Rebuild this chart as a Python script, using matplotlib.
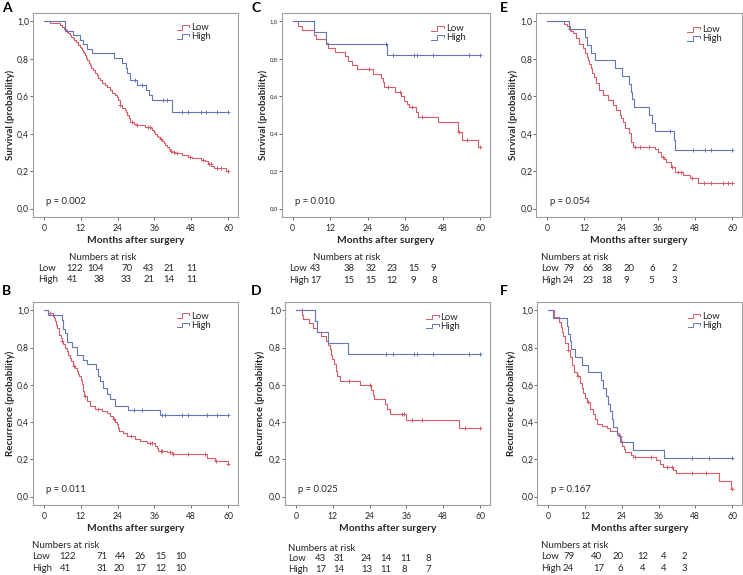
import matplotlib
matplotlib.use("Agg")
import matplotlib.pyplot as plt
import numpy as np
from matplotlib.legend_handler import HandlerBase
from matplotlib.lines import Line2D

plt.rcParams["font.family"] = ["Lato", "DejaVu Sans"]

W, H = 743, 575
RED = "#d85c67"
BLUE = "#6276b9"
FRAME = "#a0a0a0"
TXT = "#262626"

# ---------------------------------------------------------------- data
# A: survival, cohort 1
A_low_t = [2.0, 3.7, 5.3, 6.0, 6.6, 7.1, 7.5, 8.0, 8.5, 9.0, 9.6, 10.0, 10.5, 11.0, 11.3, 11.7,
           12.0, 12.4, 12.7, 13.1, 13.4, 13.8, 14.2, 14.6, 15.0, 15.5, 16.1, 16.6, 17.2, 17.7,
           18.3, 19.1, 19.9, 20.7, 21.5, 22.3, 23.2, 23.7, 24.3, 24.8, 25.6, 26.4, 26.8, 27.2,
           27.6, 28.0, 29.4, 30.0, 33.0, 34.8, 35.3, 35.8, 36.3, 36.8, 37.3, 37.8, 38.5, 39.0,
           39.5, 40.0, 40.6, 41.2, 41.8, 42.5, 45.0, 47.0, 48.3, 51.0, 52.5, 53.3, 54.5, 55.3, 59.3]
A_low_s = [0.994, 0.989, 0.98, 0.971, 0.962, 0.954, 0.945, 0.936, 0.927, 0.918, 0.909, 0.900,
           0.892, 0.883, 0.874, 0.865, 0.856, 0.847, 0.838, 0.829, 0.82, 0.806, 0.793, 0.78,
           0.767, 0.753, 0.740, 0.727, 0.713, 0.70, 0.687, 0.673, 0.66, 0.647, 0.634, 0.62,
           0.607, 0.594, 0.58, 0.553, 0.54, 0.527, 0.514, 0.5, 0.482, 0.464, 0.452, 0.444,
           0.436, 0.428, 0.419, 0.41, 0.40, 0.39, 0.38, 0.37, 0.36, 0.35, 0.34, 0.33, 0.32,
           0.31, 0.30, 0.295, 0.288, 0.278, 0.268, 0.26, 0.252, 0.24, 0.228, 0.215, 0.2]
A_low_c = [24.9, 28.6, 30.3, 33.8, 34.5, 38.3, 41.4, 42.3, 43.3, 47.5, 51.8, 53.8, 54.3, 56.3,
           57.8, 59.8]
A_high_t = [6.9, 9.6, 11.8, 12.8, 14.2, 15.8, 23.0, 25.3, 26.6, 27.2, 28.2, 30.4, 33.2, 34.2,
            35.2, 41.7]
A_high_s = [0.951, 0.927, 0.902, 0.878, 0.854, 0.829, 0.805, 0.780, 0.751, 0.722, 0.687, 0.660,
            0.633, 0.607, 0.580, 0.516]
A_high_c = [29.7, 32.0, 38.8, 40.0, 44.9, 47.0, 51.0, 52.9, 56.5, 60.0]

# B: recurrence, cohort 1
B_low_t = [1.5, 2.9, 3.3, 3.7, 4.1, 4.4, 4.8, 5.1, 5.5, 5.8, 6.3, 6.9, 7.4, 8.0, 8.4, 8.8, 9.6,
           10.2, 10.7, 11.1, 11.6, 12.0, 12.3, 12.7, 13.2, 14.0, 15.0, 16.7, 18.8, 20.5, 21.5,
           22.6, 23.2, 23.7, 24.2, 24.6, 25.9, 27.2, 29.7, 31.3, 33.5, 36.2, 36.8, 37.3, 40.0,
           41.6, 53.0, 55.7, 59.8]
B_low_s = [0.986, 0.968, 0.959, 0.941, 0.923, 0.906, 0.888, 0.870, 0.852, 0.835, 0.817, 0.799,
           0.781, 0.763, 0.745, 0.727, 0.701, 0.688, 0.674, 0.66, 0.647, 0.625, 0.603, 0.567,
           0.540, 0.514, 0.487, 0.469, 0.460, 0.451, 0.434, 0.416, 0.403, 0.389, 0.371, 0.353,
           0.344, 0.326, 0.308, 0.299, 0.290, 0.273, 0.26, 0.246, 0.237, 0.228, 0.210, 0.192,
           0.174]
B_low_c = [1.9, 6.0, 9.9, 13.3, 17.8, 22.9, 28.3, 34.5, 35.1, 38.3, 38.6, 41.0, 42.0, 47.0,
           52.5, 56.0, 60.0]
B_high_t = [1.5, 6.0, 6.4, 6.9, 7.5, 9.1, 10.7, 12.9, 14.2, 17.0, 17.5, 18.3, 19.4, 20.5, 21.5,
            23.2, 27.5, 37.8]
B_high_s = [0.976, 0.951, 0.902, 0.878, 0.829, 0.805, 0.760, 0.736, 0.711, 0.683, 0.646, 0.620,
            0.585, 0.549, 0.523, 0.487, 0.465, 0.437]
B_high_c = [29.5, 32.0, 38.5, 39.6, 45.0, 47.0, 53.0, 56.5, 60.0]

# C: survival, cohort 2
C_low_t = [1.8, 2.9, 6.9, 7.4, 10.7, 11.4, 13.6, 16.8, 17.8, 19.1, 20.5, 25.8, 28.3, 28.9, 29.4,
           32.8, 34.7, 35.8, 36.7, 37.4, 39.5, 40.0, 46.4, 52.8, 54.1, 59.5]
C_low_s = [0.977, 0.953, 0.930, 0.907, 0.884, 0.860, 0.837, 0.814, 0.790, 0.767, 0.744, 0.720,
           0.697, 0.674, 0.650, 0.625, 0.600, 0.575, 0.560, 0.545, 0.515, 0.488, 0.460, 0.410,
           0.365, 0.330]
C_low_c = [24.6, 30.6, 34.4, 38.1, 41.3, 53.3, 55.7, 60.0]
C_high_t = [6.8, 10.7, 30.3]
C_high_s = [0.941, 0.882, 0.822]
C_high_c = [29.9, 32.0, 38.9, 39.7, 44.8, 56.6, 60.0]

# D: recurrence, cohort 2
D_low_t = [2.1, 2.3, 4.3, 5.7, 6.8, 8.1, 9.7, 10.5, 11.1, 11.5, 11.9, 12.4, 13.0, 13.5, 14.4,
           20.9, 24.6, 25.0, 25.4, 28.9, 29.8, 30.6, 35.9, 53.0]
D_low_s = [0.977, 0.953, 0.930, 0.907, 0.884, 0.860, 0.837, 0.814, 0.791, 0.762, 0.738, 0.710,
           0.676, 0.647, 0.620, 0.597, 0.572, 0.547, 0.522, 0.496, 0.470, 0.443, 0.412, 0.371]
D_low_c = [1.9, 17.3, 24.3, 34.5, 35.2, 37.8, 41.1, 55.1, 60.0]
D_high_t = [6.2, 7.0, 10.5, 17.1]
D_high_s = [0.941, 0.882, 0.824, 0.765]
D_high_c = [29.4, 31.5, 38.4, 39.5, 44.6, 56.4, 60.0]

# E: survival, cohort 3
E_low_t = [5.6, 6.5, 7.3, 7.8, 8.3, 9.4, 10.5, 11.6, 12.4, 13.0, 13.4, 13.7, 14.2, 14.6, 15.2,
           15.7, 16.8, 18.1, 19.7, 21.3, 22.4, 23.7, 24.1, 24.6, 25.1, 26.5, 27.3, 28.0, 35.0,
           35.9, 37.0, 37.8, 38.6, 40.2, 41.6, 44.0, 46.2, 48.9]
E_low_s = [0.987, 0.975, 0.962, 0.949, 0.936, 0.909, 0.882, 0.856, 0.829, 0.81, 0.793, 0.771,
           0.749, 0.727, 0.704, 0.669, 0.633, 0.607, 0.58, 0.553, 0.527, 0.50, 0.482, 0.464,
           0.429, 0.402, 0.358, 0.331, 0.317, 0.304, 0.278, 0.264, 0.251, 0.224, 0.198, 0.18,
           0.162, 0.135]
E_low_c = [7.5, 28.6, 30.2, 33.0, 37.5, 40.5, 42.3, 43.5, 47.0, 51.0, 53.0, 57.0, 58.5, 60.0]
E_high_t = [7.2, 12.2, 13.0, 14.2, 15.5, 22.0, 24.3, 26.6, 27.1, 27.6, 28.2, 33.0, 34.0, 35.0,
            41.2, 41.6]
E_high_s = [0.958, 0.917, 0.875, 0.833, 0.792, 0.750, 0.708, 0.667, 0.625, 0.583, 0.542, 0.500,
            0.458, 0.417, 0.365, 0.313]
E_high_c = [39.8, 47.2, 51.2, 53.0, 60.0]

# F: recurrence, cohort 3
F_low_t = [1.8, 3.5, 4.2, 4.5, 4.8, 5.4, 6.4, 7.0, 7.8, 8.3, 9.4, 10.5, 11.0, 11.4, 12.1, 12.7,
           13.7, 14.8, 15.4, 16.0, 17.5, 19.1, 20.2, 22.5, 23.1, 23.8, 24.2, 24.6, 25.0, 27.0,
           27.8, 35.3, 36.5, 37.5, 40.8, 41.6, 55.6, 59.7]
F_low_s = [0.962, 0.937, 0.911, 0.886, 0.861, 0.823, 0.785, 0.747, 0.709, 0.671, 0.646, 0.608,
           0.582, 0.557, 0.532, 0.506, 0.468, 0.443, 0.418, 0.392, 0.380, 0.367, 0.354, 0.341,
           0.328, 0.30, 0.272, 0.255, 0.24, 0.226, 0.212, 0.195, 0.175, 0.158, 0.145, 0.126,
           0.084, 0.04]
F_low_c = [6.5, 9.6, 12.9, 23.3, 28.3, 33.7, 38.8, 40.5, 46.9, 51.6, 60.0]
F_high_t = [1.5, 6.2, 6.5, 7.2, 7.6, 8.9, 11.0, 13.0, 17.4, 17.8, 18.9, 19.5, 20.2, 20.8, 21.3,
            22.6, 23.3, 27.6, 37.8]
F_high_s = [0.958, 0.917, 0.875, 0.833, 0.792, 0.750, 0.708, 0.667, 0.625, 0.583, 0.542, 0.500,
            0.458, 0.417, 0.375, 0.333, 0.292, 0.250, 0.208]
F_high_c = [47.0, 52.5, 60.0]

# numbers at risk
risk_low = {"A": [122, 104, 70, 43, 21, 11], "B": [122, 71, 44, 26, 15, 10],
            "C": [43, 38, 32, 23, 15, 9], "D": [43, 31, 24, 14, 11, 8],
            "E": [79, 66, 38, 20, 6, 2], "F": [79, 40, 20, 12, 4, 2]}
risk_high = {"A": [41, 38, 33, 21, 14, 11], "B": [41, 31, 20, 17, 12, 10],
             "C": [17, 15, 15, 12, 9, 8], "D": [17, 14, 13, 11, 8, 7],
             "E": [24, 23, 18, 9, 5, 3], "F": [24, 17, 6, 4, 4, 3]}
p_values = {"A": "0.002", "B": "0.011", "C": "0.010", "D": "0.025", "E": "0.054", "F": "0.167"}

curves = {
    "A": ((A_low_t, A_low_s, A_low_c), (A_high_t, A_high_s, A_high_c)),
    "B": ((B_low_t, B_low_s, B_low_c), (B_high_t, B_high_s, B_high_c)),
    "C": ((C_low_t, C_low_s, C_low_c), (C_high_t, C_high_s, C_high_c)),
    "D": ((D_low_t, D_low_s, D_low_c), (D_high_t, D_high_s, D_high_c)),
    "E": ((E_low_t, E_low_s, E_low_c), (E_high_t, E_high_s, E_high_c)),
    "F": ((F_low_t, F_low_s, F_low_c), (F_high_t, F_high_s, F_high_c)),
}

# ---------------------------------------------------------------- layout (pixels)
layout = {
    # box(l, t, r, b), letter(x, y), ylabel right edge, legend anchor, table
    "A": dict(box=(33, 13, 238, 217), letter=(2, 8), ylab=-0.088, leg=(0.70, 0.95),
              head=(69, 257), lab_x=38, rows=(268.3, 279.3),
              xl=[66.7, 87.3, 121.7, 143.3, 163.3, 186.7], xh=[66.7, 93.3, 120.7, 143.3, 163.3, 186.7]),
    "B": dict(box=(33, 302, 238, 505), letter=(2, 291), ylab=-0.088, leg=(0.70, 0.952),
              head=(31.7, 545), lab_x=31.7, rows=(556.7, 568.3),
              xl=[59.3, 96.7, 115, 135, 155, 175], xh=[60, 96.7, 113.3, 135, 155.7, 175]),
    "C": dict(box=(281.7, 13, 490, 217), letter=(251, 8), ylab=-0.066, leg=(0.719, 0.945),
              head=(313.3, 257), lab_x=289, rows=(268.3, 280),
              xl=[310, 343.3, 365.7, 386.7, 408.3, 430], xh=[310, 343.3, 365.7, 386.7, 410.7, 431.7]),
    "D": dict(box=(285, 302, 490, 505), letter=(251, 291), ylab=-0.098, leg=(0.69, 0.946),
              head=(288.3, 548.3), lab_x=288.3, rows=(558.3, 569.3),
              xl=[315, 333.3, 361, 380, 400, 425], xh=[315, 333.3, 361, 380, 401.7, 425]),
    "E": dict(box=(536.3, 13, 742, 217), letter=(500, 8), ylab=-0.089, leg=(0.735, 0.94),
              head=(541.3, 257), lab_x=541.3, rows=(268.3, 280),
              xl=[563, 582.3, 601.3, 624, 649, 671.3], xh=[563, 582.3, 601.3, 624, 648, 671.3]),
    "F": dict(box=(537.3, 302, 742, 505), letter=(500, 291), ylab=-0.104, leg=(0.734, 0.951),
              head=(541.3, 545), lab_x=541.3, rows=(556.7, 568.3),
              xl=[563, 591.3, 613, 637, 661.3, 681.3], xh=[563, 593, 617, 639.7, 661.3, 681.3]),
}
ylabels = {"A": "Survival (probability)", "C": "Survival (probability)", "E": "Survival (probability)",
           "B": "Recurrence (probability)", "D": "Recurrence (probability)", "F": "Recurrence (probability)"}


class StepHandler(HandlerBase):
    """SPSS-like legend glyph: a little step."""
    def create_artists(self, legend, orig_handle, xdescent, ydescent, width, height, fontsize, trans):
        x0, x1 = -xdescent, -xdescent + width
        xm = x0 + 0.45 * width
        y0 = -ydescent + 0.1 * height
        y1 = -ydescent + 0.8 * height
        ln = Line2D([x0, xm, xm, x1, x1], [y0, y0, y1, y1, y1 - 0.3 * height],
                    color=orig_handle.get_color(), lw=0.7, transform=trans)
        return [ln]


def fx(x):
    return x / W


def fy(y):
    return 1 - y / H


def km(ax, t, s, cens, color):
    tt = np.r_[0.0, t, max(cens[-1], t[-1])]
    ss = np.r_[1.0, s, s[-1]]
    ax.step(tt, ss, where="post", color=color, lw=0.8)
    idx = np.searchsorted(tt, cens, side="right") - 1
    ax.plot(cens, ss[idx], "+", color=color, ms=3.5, mew=0.7)


fig = plt.figure(figsize=(W / 100, H / 100), dpi=100)

for key in "ABCDEF":
    L = layout[key]
    l, t, r, b = L["box"]
    ax = fig.add_axes([fx(l), fy(b), (r - l) / W, (b - t) / H])
    (lt, ls, lc), (ht, hs, hc) = curves[key]
    km(ax, lt, ls, lc, RED)
    km(ax, ht, hs, hc, BLUE)

    ax.set_xlim(-3.5, 63.2)
    ax.set_ylim(-0.045, 1.045)
    ax.set_xticks([0, 12, 24, 36, 48, 60])
    yt = [0.0, 0.2, 0.4, 0.6, 0.8, 1.0]
    ax.set_yticks(yt)
    ax.set_yticklabels([f"{v:.1f}".replace(".", ",") for v in yt])
    for sp in ax.spines.values():
        sp.set_color(FRAME)
        sp.set_linewidth(0.8)
    ax.tick_params(axis="x", length=2, width=0.6, color="#555555", pad=3,
                   labelsize=6.2, labelcolor=TXT)
    ax.tick_params(axis="y", length=2, width=0.6, color="#555555", pad=0.8,
                   labelsize=4.3 if key == "C" else 6.2, labelcolor=TXT)

    ax.set_xlabel("Months after surgery", fontsize=7.4, fontweight="bold", color=TXT)
    ax.xaxis.set_label_coords(0.5, -0.095)
    ax.set_ylabel(ylabels[key], fontsize=7, fontweight="bold", color=TXT)
    ax.yaxis.set_label_coords(L["ylab"], 0.5)

    ax.text(0.065, 0.077, f"p = {p_values[key]}", transform=ax.transAxes,
            fontsize=6.8, color=TXT, va="center", ha="left")

    handles = [Line2D([], [], color=RED), Line2D([], [], color=BLUE)]
    ax.legend(handles, ["Low", "High"], loc="upper left", bbox_to_anchor=L["leg"],
              frameon=False, fontsize=6.8, handlelength=1.3, handletextpad=0.2,
              labelspacing=0.02, borderpad=0, borderaxespad=0,
              handler_map={Line2D: StepHandler()}, labelcolor=TXT)

    # panel letter
    fig.text(fx(L["letter"][0]), fy(L["letter"][1]), key, fontsize=10,
             fontweight="bold", ha="left", va="center", color="black")

    # numbers at risk
    fig.text(fx(L["head"][0]), fy(L["head"][1]), "Numbers at risk", fontsize=7,
             ha="left", va="center", color=TXT)
    for lab, ry, xs, vals in (("Low", L["rows"][0], L["xl"], risk_low[key]),
                              ("High", L["rows"][1], L["xh"], risk_high[key])):
        fig.text(fx(L["lab_x"]), fy(ry), lab, fontsize=6.9, ha="left", va="center", color=TXT)
        for x, v in zip(xs, vals):
            fig.text(fx(x), fy(ry), str(v), fontsize=6.9, ha="left", va="center", color=TXT)

fig.savefig("out.png", dpi=100)
